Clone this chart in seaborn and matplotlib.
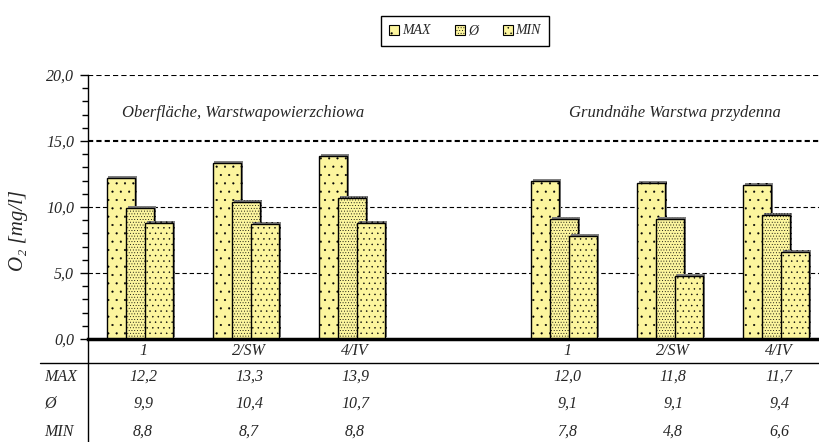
import matplotlib
matplotlib.use("Agg")
import matplotlib.pyplot as plt
import matplotlib.patheffects as pe
import matplotlib.transforms as mtransforms
from matplotlib.lines import Line2D
from matplotlib.patches import Patch
from matplotlib.ticker import MultipleLocator, FuncFormatter
import seaborn as sns

# data
categories = ["1", "2/SW", "4/IV", "1", "2/SW", "4/IV"]
positions = [0, 1, 2, 4, 5, 6]
series_names = ["MAX", "Ø", "MIN"]
max_vals = [12.2, 13.3, 13.9, 12.0, 11.8, 11.7]
avg_vals = [9.9, 10.4, 10.7, 9.1, 9.1, 9.4]
min_vals = [8.8, 8.7, 8.8, 7.8, 4.8, 6.6]
group_titles = ["Oberfläche, Warstwapowierzchiowa", "Grundnähe Warstwa przydenna"]
group_title_x = [0.97, 5.05]

FILL = "#FCF59E"
offsets = [-0.18, 0.0, 0.18]
hatches = ["..", "......", "..."]
bar_w = 0.265

sns.set_theme(style="white")
plt.rcParams["font.family"] = ["Liberation Serif", "DejaVu Serif"]
plt.rcParams["font.style"] = "italic"
plt.rcParams["hatch.linewidth"] = 0.3
plt.rcParams["hatch.color"] = "black"

W, H = 820, 442
fig = plt.figure(figsize=(W / 100, H / 100), dpi=100)
ax = fig.add_axes([88 / W, 1 - 339 / H, 1 - 88 / W, 264 / H])

# dashed grid lines behind bars
for yv in [5, 10]:
    ax.axhline(yv, color="black", lw=0.8, ls=(0, (4, 2.5)), zorder=0)
for yv in [15, 20]:
    ax.axhline(yv, color="black", lw=1.5, ls=(0, (2.5, 1.5)), zorder=0)

for vals, off, hatch in zip([max_vals, avg_vals, min_vals], offsets, hatches):
    n0 = len(ax.patches)
    sns.barplot(x=[p + off for p in positions], y=vals, native_scale=True,
                width=bar_w, color=FILL, saturation=1, edgecolor="black",
                linewidth=1.0, ax=ax, zorder=2)
    for bar in ax.patches[n0:]:
        bar.set_hatch(hatch)
        bar.set_path_effects([pe.SimplePatchShadow(offset=(1.2, 1.4), shadow_rgbFace="0.5", alpha=1),
                              pe.Normal()])

ax.set_xlim(-0.49, 6.415)
ax.set_ylim(0, 20)
ax.yaxis.set_major_locator(MultipleLocator(5))
ax.yaxis.set_minor_locator(MultipleLocator(1))
ax.yaxis.set_major_formatter(FuncFormatter(lambda v, p: f"{v:.1f}".replace(".", ",")))
ax.tick_params(axis="y", which="major", direction="out", length=6, width=1, color="black",
               left=True, labelsize=11.5, pad=4)
ax.tick_params(axis="y", which="minor", direction="out", length=4, width=1, color="black", left=True)
ax.set_xticks([p + 0.03 for p in positions], categories)
ax.tick_params(axis="x", length=0, pad=3, labelsize=11.5)
ax.set_xlabel("")
ax.set_ylabel("O₂ [mg/l]", fontsize=15)
ax.yaxis.set_label_coords(-60 / 732, 0.41)

for s in ["top", "right"]:
    ax.spines[s].set_visible(False)
ax.spines["left"].set_color("black")
ax.spines["left"].set_linewidth(1)
ax.spines["bottom"].set_color("black")
ax.spines["bottom"].set_linewidth(2.5)
ax.spines["bottom"].set_zorder(3)

for title, gx in zip(group_titles, group_title_x):
    ax.text(gx, 17.1, title, ha="center", va="center", fontsize=12)

# value table under the chart
fig.add_artist(Line2D([88 / W, 88 / W], [0, 1 - 339 / H], color="black", lw=1))
fig.add_artist(Line2D([40 / W, 1], [1 - 363 / H] * 2, color="black", lw=1))
trans = mtransforms.blended_transform_factory(ax.transData, fig.transFigure)
for name, vals, ypx in zip(series_names, [max_vals, avg_vals, min_vals], [377, 404, 432]):
    fig.text(44 / W, 1 - ypx / H, name, ha="left", va="center", fontsize=11.5)
    for p, v in zip(positions, vals):
        ax.text(p + 0.03, 1 - ypx / H, f"{v:.1f}".replace(".", ","), transform=trans,
                ha="center", va="center", fontsize=11.5, clip_on=False)

handles = [Patch(facecolor=FILL, edgecolor="black", hatch=h, lw=0.8) for h in hatches]
fig.legend(handles, series_names, loc="center", bbox_to_anchor=(465 / W, 1 - 31 / H),
           ncol=3, frameon=True, fancybox=False, edgecolor="black", framealpha=1,
           handlelength=0.7, handleheight=0.7, handletextpad=0.2, columnspacing=1.8,
           fontsize=10, borderpad=0.6)

fig.savefig("out.png", dpi=100)
